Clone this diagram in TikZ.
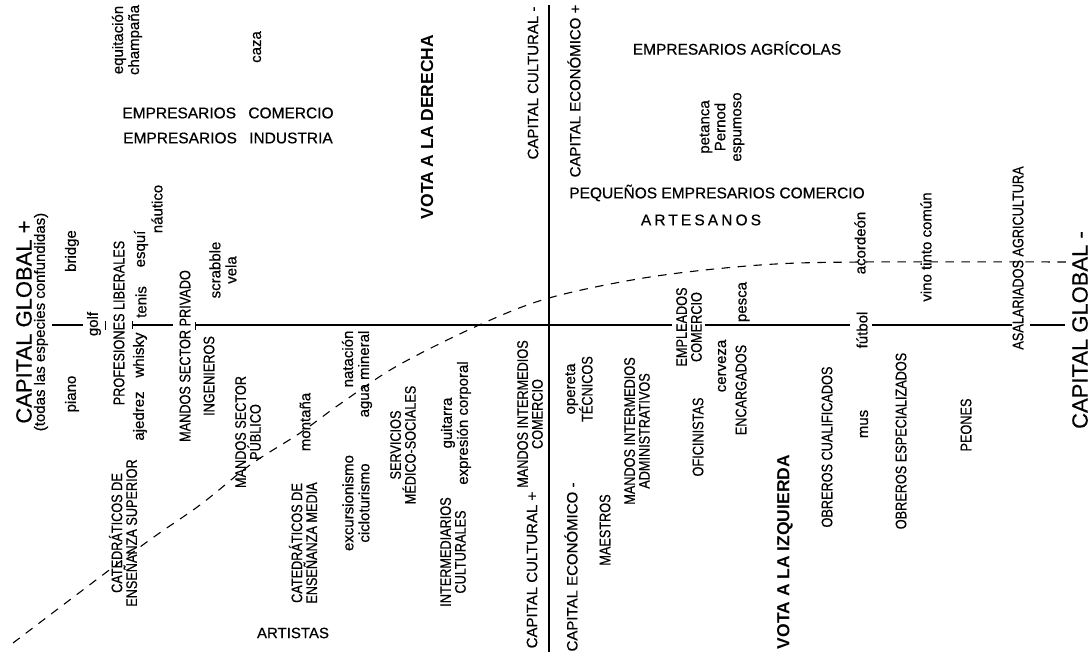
\documentclass[tikz,border=0pt]{standalone}
\usepackage{fontspec}
\setmainfont[FakeBold=0.5]{Liberation Sans}
\newfontfamily\capsf[FakeStretch=0.83, FakeBold=0.5]{Liberation Sans}
\newfontfamily\votef{Liberation Sans Bold}
\tikzset{
 lc/.style={rotate=90, inner sep=0pt, align=center, font=\fontsize{15}{16}\selectfont},
 uc/.style={rotate=90, inner sep=0pt, align=center, font=\capsf\fontsize{15.3}{14.8}\selectfont},
 axl/.style={rotate=90, inner sep=0pt, font=\fontsize{15}{16}\selectfont},
 big/.style={rotate=90, inner sep=0pt, font=\fontsize{22}{24}\selectfont},
 vote/.style={rotate=90, inner sep=0pt, font=\votef\fontsize{17.5}{19}\selectfont},
 hz/.style={inner sep=0pt, font=\fontsize{15.5}{17}\selectfont},
 axisline/.style={line width=1.2pt},
 curve/.style={line width=1.1pt, dash pattern=on 8.5pt off 7.5pt},
}
\begin{document}
\begin{tikzpicture}[x=1pt,y=-1pt]
\fill[white] (0,0) rectangle (1092,659);
\useasboundingbox (0,0) rectangle (1092,659);

% ---- axes ----
\coordinate (v1) at (549,5);
\coordinate (v2) at (549,652);
\draw[axisline] (v1) -- (v2);

\coordinate (h1a) at (52,325);  \coordinate (h1b) at (83,325);
\coordinate (h2a) at (132,325); \coordinate (h2b) at (173,325);
\coordinate (h3a) at (195,325); \coordinate (h3b) at (672,325);
\coordinate (h4a) at (705,325); \coordinate (h4b) at (850,325);
\coordinate (h5a) at (872,325); \coordinate (h5b) at (1012,325);
\coordinate (h6a) at (1030,325);\coordinate (h6b) at (1065,325);
\foreach \s in {1,...,6}{\draw[axisline] (h\s a) -- (h\s b);}
\coordinate (t1a) at (105,321); \coordinate (t1b) at (105,330);
\coordinate (t2a) at (132,321); \coordinate (t2b) at (132,329);
\coordinate (t3a) at (195,322); \coordinate (t3b) at (195,330);
\foreach \s in {1,2,3}{\draw[line width=1pt] (t\s a) -- (t\s b);}

% ---- dashed curve ----
\draw[curve] plot[smooth, tension=0.55] coordinates {(13,643) (140,547) (200,505) (250,465) (300,433) (340,404) (397,366) (477,326) (549,298) (650,277) (760,265) (860,262) (1070,262)};

% ---- big axis titles ----
\node[big] (cgp) at (24,322) {CAPITAL GLOBAL +};
\node[axl] (sub) at (41,322) {(todas las especies confundidas)};
\node[big] (cgm) at (1080,330) {CAPITAL GLOBAL -};
\node[axl] (ccm) at (533,83) {CAPITAL CULTURAL -};
\node[axl] (cep) at (574,91) {CAPITAL ECONÓMICO +};
\node[axl] (ccp) at (532,570) {CAPITAL CULTURAL +};
\node[axl] (cem) at (571,567) {CAPITAL ECONÓMICO -};
\node[vote] (vd) at (427,127) {VOTA A LA DERECHA};
\node[vote] (vi) at (785,552) {VOTA A LA IZQUIERDA};

% ---- horizontal labels ----
\node[hz] (ecom) at (228,113) {EMPRESARIOS\hspace{8pt} COMERCIO};
\node[hz] (eind) at (228,138) {EMPRESARIOS\hspace{8pt} INDUSTRIA};
\node[hz] (eagr) at (737,48) {EMPRESARIOS AGRÍCOLAS};
\node[hz] (peq) at (717,193) {PEQUEÑOS EMPRESARIOS COMERCIO};
\node[hz, font=\fontsize{15.5}{17}\selectfont\addfontfeature{LetterSpace=20}] (art) at (701,220) {ARTESANOS};
\node[hz, font=\fontsize{15}{17}\selectfont] (artis) at (293,633) {ARTISTAS};

% ---- lowercase (practices) ----
\node[lc] (equ) at (127,40) {equitación\\champaña};
\node[lc] (caza) at (257,47) {caza};
\node[lc] (bridge) at (72,251) {bridge};
\node[lc] (piano) at (72,394) {piano};
\node[lc] (golf) at (94,324) {golf};
\node[lc] (ajed) at (140,416) {ajedrez};
\node[lc] (whis) at (140,355) {whisky};
\node[lc] (tenis) at (141,302) {tenis};
\node[lc] (esqui) at (141,249) {esquí};
\node[lc] (naut) at (157,209) {náutico};
\node[lc] (scr) at (223,270) {scrabble\\vela};
\node[lc] (mont) at (305,422) {montaña};
\node[lc] (exc) at (356,503) {excursionismo\\cicloturismo};
\node[lc, align=right] (nat) at (357,374) {natación\\agua mineral};
\node[lc] (guit) at (456,423) {guitarra\\expresión corporal};
\node[lc] (oper) at (579,389) {opereta\\{\capsf\fontsize{15.3}{14.8}\selectfont TÉCNICOS}};
\node[lc] (pet) at (722,127) {petanca\\Pernod\\espumoso};
\node[lc] (cerv) at (722,366) {cerveza};
\node[lc] (pesca) at (744,302) {pesca};
\node[lc] (mus) at (864,424) {mus};
\node[lc] (futbol) at (862,330) {fútbol};
\node[lc] (acord) at (860,243) {acordeón};
\node[lc] (vino) at (926,247) {vino tinto común};

% ---- uppercase (positions) ----
\node[uc] (catsup) at (123,533) {CATEDRÁTICOS DE\\ENSEÑANZA SUPERIOR};
\node[uc] (prof) at (119,323) {PROFESIONES LIBERALES};
\node[uc] (msp) at (185,356) {MANDOS SECTOR PRIVADO};
\node[uc] (ing) at (209,376) {INGENIEROS};
\node[uc] (mspub) at (248,432) {MANDOS SECTOR\\PÚBLICO};
\node[uc] (catmed) at (303,543) {CATEDRÁTICOS DE\\ENSEÑANZA MEDIA};
\node[uc] (serv) at (403,445) {SERVICIOS\\MÉDICO-SOCIALES};
\node[uc] (inter) at (453,552) {INTERMEDIARIOS\\CULTURALES};
\node[uc] (mic) at (530,414) {MANDOS INTERMEDIOS\\COMERCIO};
\node[uc] (maes) at (605,530) {MAESTROS};
\node[uc] (mia) at (637,431) {MANDOS INTERMEDIOS\\ADMINISTRATIVOS};
\node[uc] (ofic) at (698,437) {OFICINISTAS};
\node[uc] (empl) at (689,327) {EMPLEADOS\\COMERCIO};
\node[uc] (enc) at (741,390) {ENCARGADOS};
\node[uc] (obc) at (827,447) {OBREROS CUALIFICADOS};
\node[uc] (obe) at (901,441) {OBREROS ESPECIALIZADOS};
\node[uc] (peon) at (966,425) {PEONES};
\node[uc] (asal) at (1018,258) {ASALARIADOS AGRICULTURA};
\end{tikzpicture}
\end{document}
